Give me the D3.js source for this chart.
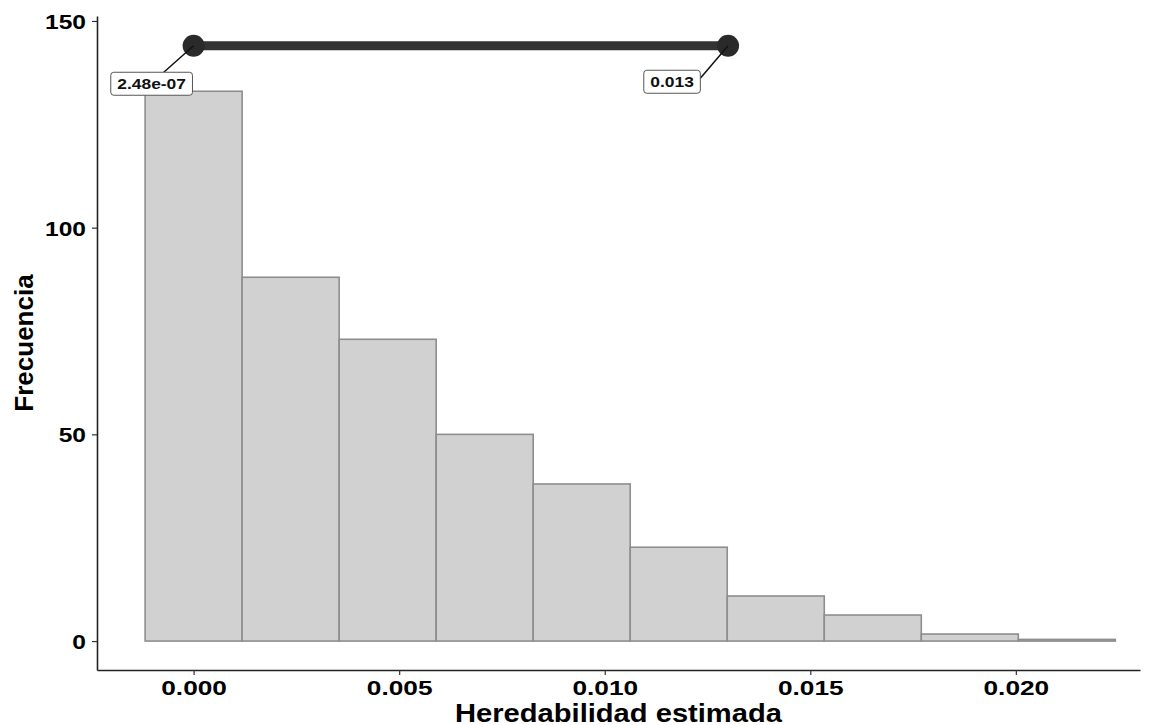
<!DOCTYPE html>
<html>
<head>
<meta charset="utf-8">
<script src="https://cdn.jsdelivr.net/npm/d3@7"></script>
<style>
  body { margin: 0; background: #fff; }
  text { font-family: "Liberation Sans", Arial, sans-serif; }
</style>
</head>
<body>
<svg id="chart"></svg>
<script>
// Histogram data
const binStarts = [-0.00118, 0.00118, 0.00354, 0.0059, 0.00826, 0.01062, 0.01298, 0.01534, 0.0177, 0.02006];
const binWidth = 0.00236;
const counts = [133, 88, 73, 50, 38, 22.7, 10.9, 6.3, 1.7, 0.4];
const xTicks = [0, 0.005, 0.01, 0.015, 0.02];
const yTicks = [0, 50, 100, 150];
// Interval shown on top
const intervalLow = 2.48e-7;
const intervalHigh = 0.013;
const intervalY = 144;
const intervalLabels = ["2.48e-07", "0.013"];

const W = 1151, H = 725;
const margin = { top: 16, right: 11, bottom: 55, left: 97 };
const width = W - margin.left - margin.right;
const height = H - margin.top - margin.bottom;

// the reference text is a bit wide, stretch it horizontally
function stretch(sel, k) {
  sel.each(function () {
    const len = this.getComputedTextLength();
    d3.select(this).attr("textLength", len * k).attr("lengthAdjust", "spacingAndGlyphs");
  });
}

const svg = d3.select("#chart").attr("width", W).attr("height", H);
const g = svg.append("g").attr("transform", `translate(${margin.left},${margin.top})`);

const x = d3.scaleLinear().domain([-0.00235, 0.02302]).range([0, width]);
const y = d3.scaleLinear().domain([-7.0, 151.2]).range([height, 0]);

// bars
g.selectAll(".bar")
  .data(counts)
  .enter()
  .append("rect")
  .attr("class", "bar")
  .attr("x", (d, i) => x(binStarts[i]))
  .attr("y", d => y(d))
  .attr("width", (d, i) => x(binStarts[i] + binWidth) - x(binStarts[i]))
  .attr("height", d => y(0) - y(d))
  .attr("fill", "#d1d1d1")
  .attr("stroke", "#8e8e8e")
  .attr("stroke-width", 1.6);

// axes
const xAxis = g.append("g")
  .attr("transform", `translate(0,${height})`)
  .call(d3.axisBottom(x).tickValues(xTicks).tickFormat(d3.format(".3f")).tickSize(5).tickSizeOuter(0));
const yAxis = g.append("g")
  .call(d3.axisLeft(y).tickValues(yTicks).tickSize(5).tickSizeOuter(0));

[xAxis, yAxis].forEach(a => {
  a.select(".domain").attr("stroke", "#222").attr("stroke-width", 1.6);
  a.selectAll(".tick line").attr("stroke", "#333").attr("stroke-width", 1.2);
  a.selectAll(".tick text")
    .attr("fill", "#000")
    .style("font-size", "21px")
    .style("font-weight", "bold");
});
xAxis.selectAll(".tick text").attr("y", 25).attr("dy", 0);
yAxis.selectAll(".tick text").attr("dy", "0.36em").attr("x", -11);
stretch(xAxis.selectAll(".tick text"), 1.25);
stretch(yAxis.selectAll(".tick text"), 1.17);

// interval segment
g.append("line")
  .attr("x1", x(intervalLow)).attr("x2", x(intervalHigh))
  .attr("y1", y(intervalY)).attr("y2", y(intervalY))
  .attr("stroke", "#333")
  .attr("stroke-width", 9);

g.selectAll(".endpoint")
  .data([intervalLow, intervalHigh])
  .enter()
  .append("circle")
  .attr("class", "endpoint")
  .attr("cx", d => x(d))
  .attr("cy", y(intervalY))
  .attr("r", 11)
  .attr("fill", "#2a2a2a");

// labels with leader lines
const labelOffsets = [{ dx: -42, dy: 38 }, { dx: -56, dy: 36 }];
[intervalLow, intervalHigh].forEach((v, i) => {
  const px = x(v), py = y(intervalY);
  const lx = px + labelOffsets[i].dx, ly = py + labelOffsets[i].dy;
  const lab = g.append("g").attr("transform", `translate(${lx},${ly})`);
  const t = lab.append("text")
    .attr("text-anchor", "middle")
    .attr("dy", "0.35em")
    .style("font-size", "15px")
    .style("font-weight", "bold")
    .attr("fill", "#111")
    .text(intervalLabels[i]);
  const tw = t.node().getComputedTextLength() * 1.16;
  stretch(t, 1.16);
  const bw = tw + 13, bh = 23;
  // leader line toward box edge
  const edgeX = i === 0 ? lx - bw / 2 + 53 : lx + bw / 2;
  const edgeY = i === 0 ? ly - bh / 2 : ly - bh / 2 + 8;
  g.append("line")
    .attr("x1", px).attr("y1", py)
    .attr("x2", edgeX).attr("y2", edgeY)
    .attr("stroke", "#111")
    .attr("stroke-width", 1.5);
  lab.insert("rect", "text")
    .attr("x", -bw / 2).attr("y", -bh / 2)
    .attr("width", bw).attr("height", bh)
    .attr("rx", 3)
    .attr("fill", "#fff")
    .attr("stroke", "#555")
    .attr("stroke-width", 1);
  lab.raise();
});

// axis titles
const xTitle = svg.append("text")
  .attr("x", margin.left + width / 2)
  .attr("y", 722)
  .attr("text-anchor", "middle")
  .style("font-size", "26px")
  .style("font-weight", "bold")
  .text("Heredabilidad estimada");
stretch(xTitle, 1.12);

svg.append("text")
  .attr("text-anchor", "middle")
  .attr("transform", `translate(33,${margin.top + height / 2})rotate(-90)`)
  .style("font-size", "26px")
  .style("font-weight", "bold")
  .text("Frecuencia");
</script>
</body>
</html>
